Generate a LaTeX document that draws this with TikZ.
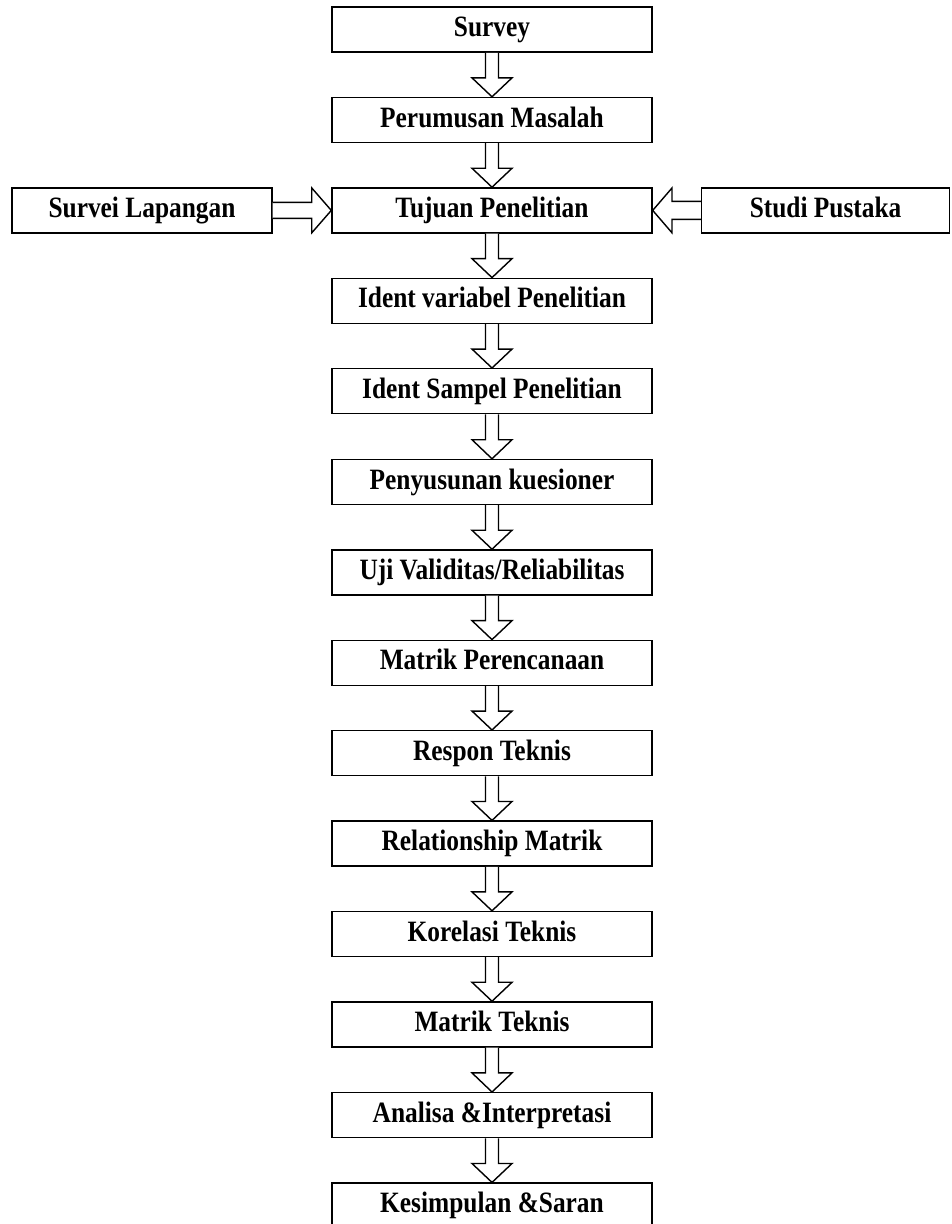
\documentclass[tikz,border=0pt]{standalone}
\usepackage{fontspec}
\setmainfont{Liberation Serif}[FakeStretch=0.86]
\usepackage{tikz}
\usetikzlibrary{calc}

\newcommand{\arrdown}[2]{%
 \draw[blok] ($(#1.south)+(-0.1625,0)$) -- ($(#1.south)!0.57!(#2.north)+(-0.1625,0)$)
  -- ($(#1.south)!0.57!(#2.north)+(-0.5,0)$) -- (#2.north)
  -- ($(#1.south)!0.57!(#2.north)+(0.5,0)$) -- ($(#1.south)!0.57!(#2.north)+(0.1625,0)$)
  -- ($(#1.south)+(0.1625,0)$);}
\newcommand{\arrside}[4]{%
 \draw[blok] ($(#1)+(0,#4)$) -- ($(#1)!#3!(#2)+(0,#4)$) -- ($(#1)!#3!(#2)+(0,0.56)$)
  -- (#2) -- ($(#1)!#3!(#2)+(0,-0.56)$) -- ($(#1)!#3!(#2)+(0,-#4)$) -- ($(#1)+(0,-#4)$);}

\begin{document}
\begin{tikzpicture}[font=\fontsize{21}{25}\selectfont\bfseries,
 kotak/.style={draw,line width=1pt,fill=white,minimum height=11.25mm,minimum width=80mm,inner sep=0pt,text height=14pt,text depth=4pt,align=center},
 blok/.style={draw,line width=1pt,fill=white,line join=miter}]
\useasboundingbox (0,0) rectangle (23.775,-30.6);
\node[kotak] (sv) at (12.3,-0.74) {Survey};
\node[kotak] (pm) at (12.3,-3.00) {Perumusan Masalah};
\node[kotak] (tp) at (12.3,-5.26) {Tujuan Penelitian};
\node[kotak] (iv) at (12.3,-7.52) {Ident variabel Penelitian};
\node[kotak] (is) at (12.3,-9.78) {Ident Sampel Penelitian};
\node[kotak] (pk) at (12.3,-12.05) {Penyusunan kuesioner};
\node[kotak] (uv) at (12.3,-14.31) {Uji Validitas/Reliabilitas};
\node[kotak] (mp) at (12.3,-16.57) {Matrik Perencanaan};
\node[kotak] (rt) at (12.3,-18.83) {Respon Teknis};
\node[kotak] (rm) at (12.3,-21.09) {Relationship Matrik};
\node[kotak] (kt) at (12.3,-23.35) {Korelasi Teknis};
\node[kotak] (mt) at (12.3,-25.61) {Matrik Teknis};
\node[kotak] (ai) at (12.3,-27.88) {Analisa \&Interpretasi};
\node[kotak] (ks) at (12.3,-30.14) {Kesimpulan \&Saran};
\node[kotak,minimum width=65mm] (sl) at (3.55,-5.26) {Survei Lapangan};
\node[kotak,minimum width=62mm] (sp) at (20.64,-5.26) {Studi Pustaka};
\arrdown{sv}{pm}
\arrdown{pm}{tp}
\arrdown{tp}{iv}
\arrdown{iv}{is}
\arrdown{is}{pk}
\arrdown{pk}{uv}
\arrdown{uv}{mp}
\arrdown{mp}{rt}
\arrdown{rt}{rm}
\arrdown{rm}{kt}
\arrdown{kt}{mt}
\arrdown{mt}{ai}
\arrdown{ai}{ks}
\arrside{sl.east}{tp.west}{0.667}{0.2}
\arrside{sp.west}{tp.east}{0.6}{0.225}
\end{tikzpicture}
\end{document}
